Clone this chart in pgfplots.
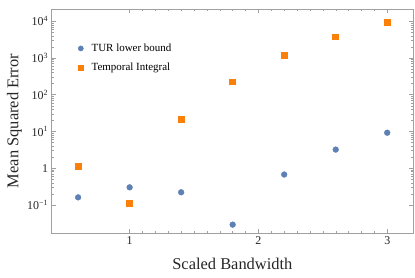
\documentclass[border=0pt]{standalone}
\usepackage{pgfplots}
\pgfplotsset{compat=1.18}
\usepackage{fontspec}
\setmainfont{Liberation Serif}
\definecolor{mblue}{RGB}{94,129,181}
\definecolor{morange}{RGB}{250,128,10}
\definecolor{frame}{RGB}{160,160,160}
\begin{document}
\begin{tikzpicture}[x=1bp,y=1bp]
\begin{axis}[
  name=ax,
  scale only axis,
  width=361.3bp, height=223.4bp,
  ymode=log,
  xmin=0.395, xmax=3.2,
  ymin=0.0175, ymax=21000,
  xtick={1,2,3},
  minor x tick num=9,
  ytick={0.1,1,10,100,1000,10000},
  yticklabels={10\textsuperscript{−1},1,10\textsuperscript{1},10\textsuperscript{2},10\textsuperscript{3},10\textsuperscript{4}},
  xticklabels={1,2,3},
  tick pos=both,
  tick align=inside,
  major tick length=4bp,
  minor tick length=2bp,
  axis line style={frame},
  every tick/.style={frame},
  tick label style={font=\fontsize{12}{12}\selectfont, text=black!85},
  /pgf/number format/assume math mode=true,
  xlabel={Scaled Bandwidth},
  ylabel={Mean Squared Error},
  label style={font=\fontsize{16.5}{16.5}\selectfont, text=black!85},
  xlabel style={at={(0.5,-0.165)}, anchor=base, yshift=0bp},
  ylabel style={at={(-0.092,0.5)}, anchor=base},
  legend style={draw=none, fill=none, at={(0.064,0.855)}, anchor=north west,
    font=\fontsize{11}{12}\selectfont, row sep=10bp,
    nodes={inner xsep=8bp, inner ysep=0bp}},
  legend cell align=left,
]
\addplot[only marks, mark=*, mark size=2.9bp, color=mblue,
  legend image code/.code={\draw[mblue,fill=mblue] (0.15cm,0cm) circle (2.6bp);}] coordinates {
(0.6,0.16) (1.0,0.30) (1.4,0.22) (1.8,0.029) (2.2,0.67) (2.6,3.2) (3.0,9.2)};
\addlegendentry{TUR lower bound}
\addplot[only marks, mark=square*, mark size=2.9bp, color=morange, mark options={line width=0pt},
  legend image code/.code={\fill[morange] (0.15cm,0cm) ++(-2.2bp,-2.2bp) rectangle ++(4.4bp,4.4bp);}] coordinates {
(0.6,1.1) (1.0,0.11) (1.4,21) (1.8,220) (2.2,1150) (2.6,3700) (3.0,9100)};
\addlegendentry{Temporal Integral}
\end{axis}
\pgfresetboundingbox
\path ([shift={(-51.7bp,-45.3bp)}]ax.south west) rectangle ([shift={(2bp,9.3bp)}]ax.north east);
\end{tikzpicture}
\end{document}
